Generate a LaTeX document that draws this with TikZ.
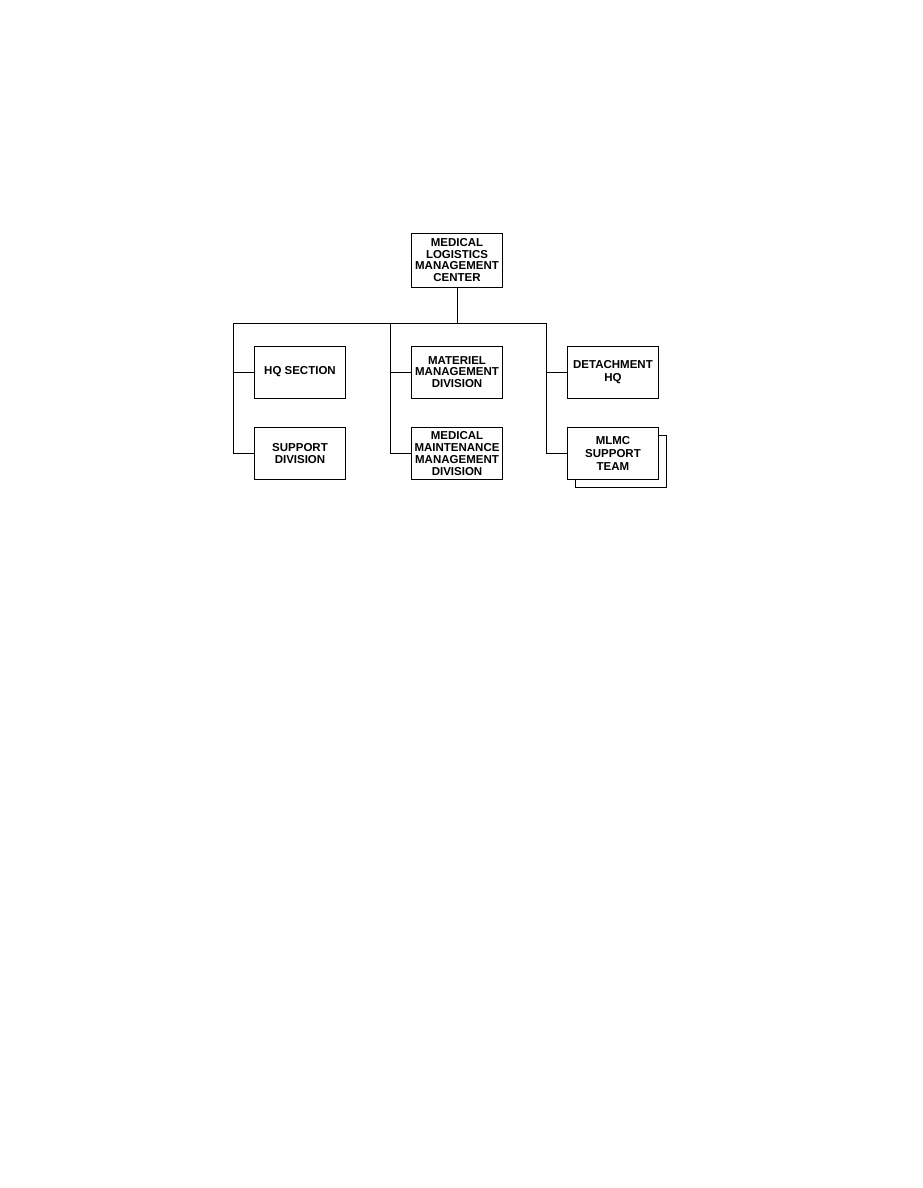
\documentclass[tikz,border=0pt]{standalone}
\usepackage{fontspec}
\setmainfont{Liberation Sans}
\begin{document}
\begin{tikzpicture}[
        x=1pt, y=-1pt,
        every node/.style={draw, rectangle, fill=white, line width=1pt,
            minimum width=91pt, minimum height=52pt, align=center,
            inner sep=1pt, font=\fontsize{11.5}{11.7}\selectfont\bfseries},
        topbox/.style={minimum height=54pt},
        widebox/.style={font=\fontsize{11.5}{13.3}\selectfont\bfseries},
        link/.style={draw, line width=1pt},
    ]
    \useasboundingbox (0,0) rectangle (923,1188);
    \node[topbox](mlmc) at (457,260){MEDICAL\\LOGISTICS\\MANAGEMENT\\CENTER};
    \node(hq) at (300,372){HQ SECTION};
    \node(supp) at (300,453.5){SUPPORT\\DIVISION};
    \node(mat) at (457,372){MATERIEL\\MANAGEMENT\\DIVISION};
    \node(maint) at (457,453.5){MEDICAL\\MAINTENANCE\\MANAGEMENT\\DIVISION};
    \node[widebox](det) at (613,372){DETACHMENT\\HQ};
    \node(teamback) at (621,461.5){};
    \node[widebox](team) at (613,453.5){MLMC\\SUPPORT\\TEAM};
    % bus and branches
    \coordinate (busL) at (233,323);
    \coordinate (busM) at (390,323);
    \coordinate (busR) at (546,323);
    \draw[link] (mlmc.south) -- (mlmc.south |- busL);
    \draw[link] (supp.west) -| (busL) -- (busR) |- (team.west);
    \draw[link] (busM) |- (maint.west);
    \draw[link] (hq.west) -- (hq.west -| busL);
    \draw[link] (mat.west) -- (mat.west -| busM);
    \draw[link] (det.west) -- (det.west -| busR);
\end{tikzpicture}
\end{document}
